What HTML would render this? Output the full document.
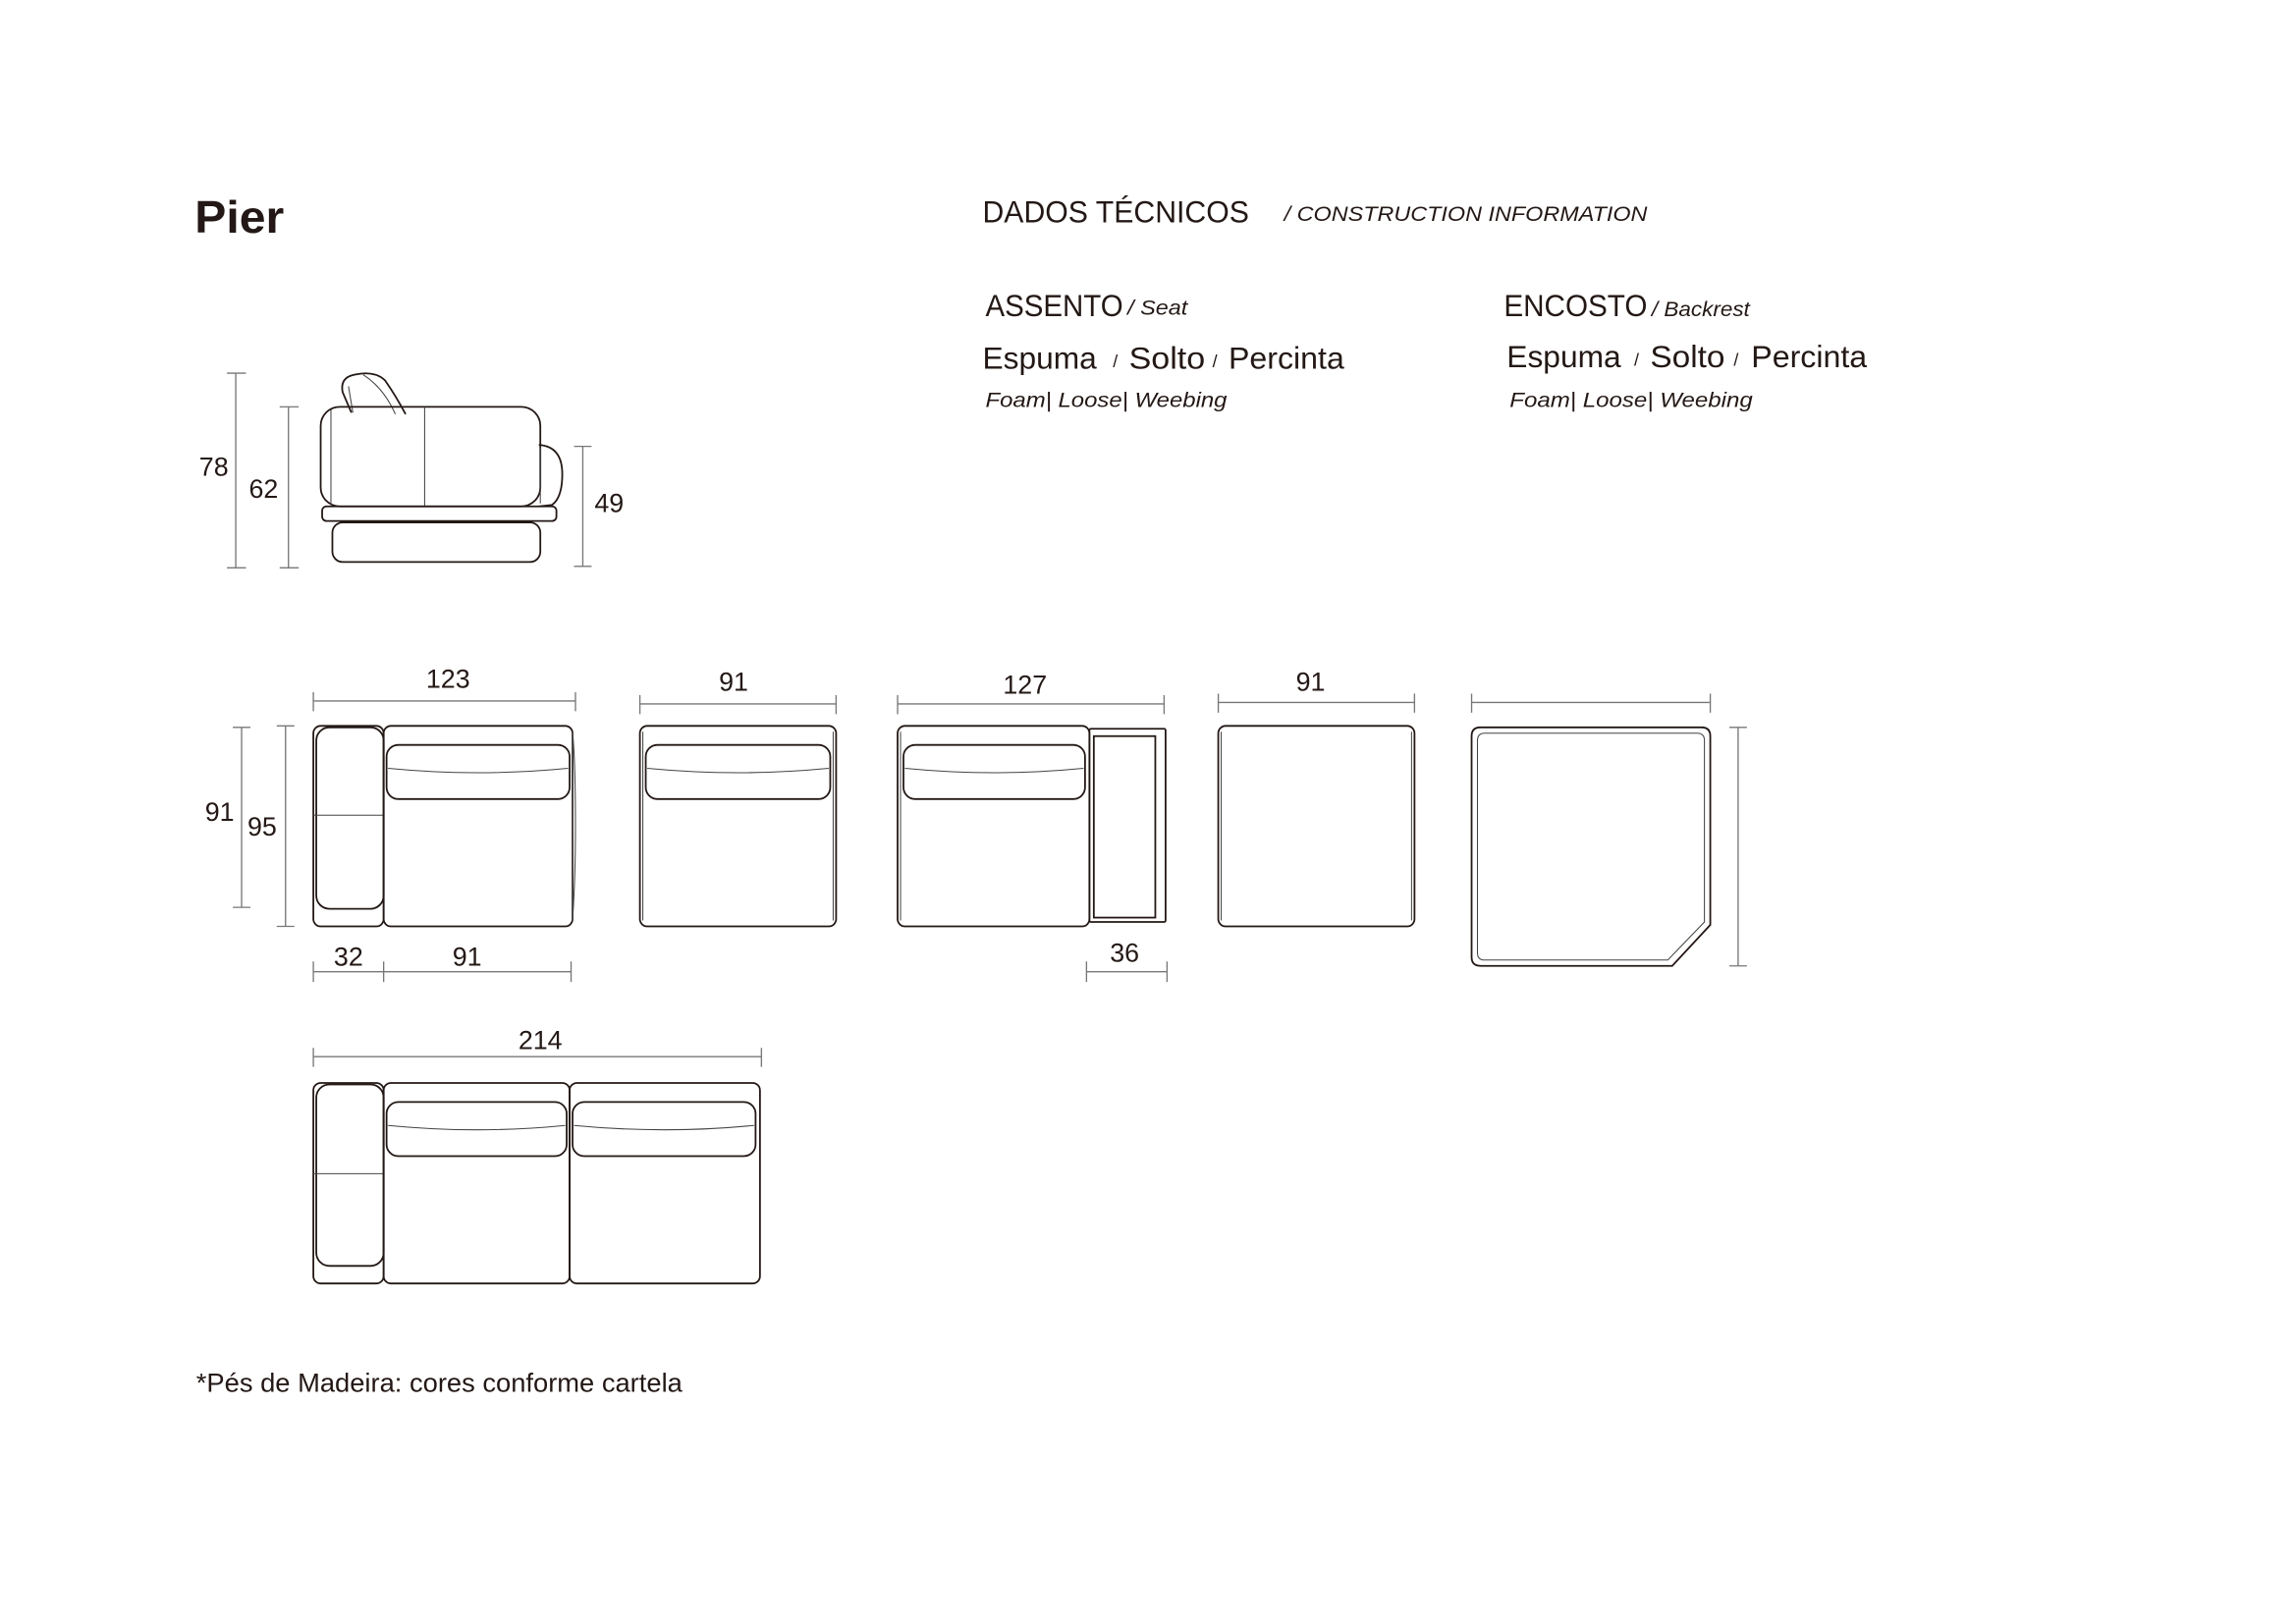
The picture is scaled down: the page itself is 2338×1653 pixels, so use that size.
<!DOCTYPE html>
<html><head><meta charset="utf-8"><style>
html,body{margin:0;padding:0;background:#fff;}
svg{display:block;}
text{font-family:"Liberation Sans",sans-serif;fill:#231815;}
.d{stroke:#777;stroke-width:0.9;fill:none;}
.s{stroke:#231815;stroke-width:1.2;fill:none;}
.t{stroke:#444;stroke-width:0.7;fill:none;}
.n{font-size:18px;text-anchor:middle;}
</style></head><body>
<svg width="2338" height="1653" viewBox="0 0 1568 1109" preserveAspectRatio="none" xmlns="http://www.w3.org/2000/svg">
<!-- Title -->
<text x="133" y="159" style="font-size:31px;font-weight:bold" textLength="61" lengthAdjust="spacingAndGlyphs">Pier</text>
<text x="671" y="152" style="font-size:21px" textLength="182" lengthAdjust="spacingAndGlyphs">DADOS TÉCNICOS</text>
<text x="877" y="151" style="font-size:14.5px;font-style:italic" textLength="248" lengthAdjust="spacingAndGlyphs">/ CONSTRUCTION INFORMATION</text>

<text x="673" y="216" style="font-size:21px" textLength="94" lengthAdjust="spacingAndGlyphs">ASSENTO</text>
<text x="770" y="215" style="font-size:14px;font-style:italic" textLength="41" lengthAdjust="spacingAndGlyphs">/ Seat</text>
<text x="671" y="252" style="font-size:21px" textLength="78" lengthAdjust="spacingAndGlyphs">Espuma</text>
<text x="760" y="251" style="font-size:12px">/</text>
<text x="771" y="252" style="font-size:21px" textLength="52" lengthAdjust="spacingAndGlyphs">Solto</text>
<text x="828" y="251" style="font-size:12px">/</text>
<text x="839" y="252" style="font-size:21px" textLength="79" lengthAdjust="spacingAndGlyphs">Percinta</text>
<text x="673" y="278" style="font-size:14px;font-style:italic" textLength="165" lengthAdjust="spacingAndGlyphs">Foam| Loose|  Weebing</text>

<text x="1027" y="216" style="font-size:21px" textLength="98" lengthAdjust="spacingAndGlyphs">ENCOSTO</text>
<text x="1128" y="216" style="font-size:14px;font-style:italic" textLength="67" lengthAdjust="spacingAndGlyphs">/ Backrest</text>
<text x="1029" y="251" style="font-size:21px" textLength="78" lengthAdjust="spacingAndGlyphs">Espuma</text>
<text x="1116" y="250" style="font-size:12px">/</text>
<text x="1127" y="251" style="font-size:21px" textLength="51" lengthAdjust="spacingAndGlyphs">Solto</text>
<text x="1184" y="250" style="font-size:12px">/</text>
<text x="1196" y="251" style="font-size:21px" textLength="79" lengthAdjust="spacingAndGlyphs">Percinta</text>
<text x="1031" y="278" style="font-size:14px;font-style:italic" textLength="166" lengthAdjust="spacingAndGlyphs">Foam| Loose|  Weebing</text>

<!-- Side view -->
<path class="d" d="M161 255V388M155 255H168M155 388H168"/>
<path class="d" d="M197 278V388M191 278H204M191 388H204"/>
<path class="d" d="M398 305V387M392 305H404M392 387H404"/>
<text class="n" x="146" y="325">78</text>
<text class="n" x="180" y="340">62</text>
<text class="n" x="416" y="350">49</text>
<path class="s" d="M240 282 L234 268 Q232 258 242 256 Q256 253 263 260 Q270 270 277 283"/>
<path class="t" d="M241 282 L238 264 M248 256 Q262 265 270 283"/>
<rect class="s" x="219" y="278" width="150" height="68" rx="13"/>
<path class="t" d="M226 280V345M290 278V346"/>
<path class="s" d="M368 304 Q384 305 384 324 Q384 340 377 345 L368 346"/>
<path class="t" d="M369 306V344"/>
<rect class="s" x="220" y="346" width="160" height="10" rx="3"/>
<rect class="s" x="227" y="357" width="142" height="27" rx="7"/>

<!-- Row 1 dims -->
<path class="d" d="M214 479H393M214 473V486M393 473V486"/>
<text class="n" x="306" y="470">123</text>
<path class="d" d="M437 481H571M437 475V488M571 475V488"/>
<text class="n" x="501" y="472">91</text>
<path class="d" d="M613 481H795M613 475V488M795 475V488"/>
<text class="n" x="700" y="474">127</text>
<path class="d" d="M832 480H966M832 474V487M966 474V487"/>
<text class="n" x="895" y="472">91</text>
<path class="d" d="M1005 480H1168M1005 474V487M1168 474V487"/>
<path class="d" d="M165 497V620M159 497H171M159 620H171"/>
<text class="n" x="150" y="561">91</text>
<path class="d" d="M195 496V633M189 496H201M189 633H201"/>
<text class="n" x="179" y="571">95</text>
<path class="d" d="M214 664H390M214 657V671M262 657V671M390 657V671"/>
<text class="n" x="238" y="660">32</text>
<text class="n" x="319" y="660">91</text>
<path class="d" d="M742 664H797M742 657V671M797 657V671"/>
<text class="n" x="768" y="657">36</text>
<path class="d" d="M1187 497V660M1181 497H1193M1181 660H1193"/>

<!-- Unit 1 -->
<rect class="s" x="214" y="496" width="48" height="137" rx="5"/>
<rect class="s" x="216" y="497" width="46" height="124" rx="9"/>
<path class="t" d="M214 557H262"/>
<rect class="s" x="262" y="496" width="129" height="137" rx="5"/>
<path class="t" d="M391 500V629Q393 600 393 565Q393 520 391 500"/>
<rect class="s" x="264" y="509" width="125" height="37" rx="8"/>
<path class="t" d="M265 525Q326 531 388 525"/>

<!-- Unit 2 -->
<rect class="s" x="437" y="496" width="134" height="137" rx="5"/>
<path class="t" d="M439 500V629M569 500V629"/>
<rect class="s" x="441" y="509" width="126" height="37" rx="8"/>
<path class="t" d="M442 525Q504 531 566 525"/>

<!-- Unit 3 -->
<rect class="s" x="613" y="496" width="131" height="137" rx="5"/>
<path class="t" d="M615 500V629"/>
<rect class="s" x="617" y="509" width="124" height="37" rx="8"/>
<path class="t" d="M618 525Q679 531 740 525"/>
<rect class="s" x="744" y="498" width="52" height="132" rx="1"/>
<rect class="s" x="747" y="503" width="42" height="124"/>

<!-- Unit 4 -->
<rect class="s" x="832" y="496" width="134" height="137" rx="5"/>
<path class="t" d="M834 500V629M964 500V629"/>

<!-- Unit 5 corner -->
<path class="s" d="M1011 497H1162Q1168 497 1168 503V632L1142 660H1011Q1005 660 1005 654V503Q1005 497 1011 497Z"/>
<path class="t" d="M1014 501H1159Q1164 501 1164 506V630L1139 656H1014Q1009 656 1009 651V506Q1009 501 1014 501Z"/>

<!-- Row 2 -->
<path class="d" d="M214 722H520M214 716V729M520 716V729"/>
<text class="n" x="369" y="717">214</text>
<rect class="s" x="214" y="740" width="48" height="137" rx="5"/>
<rect class="s" x="216" y="741" width="46" height="124" rx="9"/>
<path class="t" d="M214 802H262"/>
<rect class="s" x="262" y="740" width="127" height="137" rx="5"/>
<rect class="s" x="389" y="740" width="130" height="137" rx="5"/>
<rect class="s" x="264" y="753" width="123" height="37" rx="8"/>
<rect class="s" x="391" y="753" width="125" height="37" rx="8"/>
<path class="t" d="M265 769Q326 775 386 769M392 769Q454 775 515 769"/>

<text x="134" y="951" style="font-size:18px" textLength="332" lengthAdjust="spacingAndGlyphs">*Pés de Madeira: cores conforme cartela</text>
</svg>
</body></html>
